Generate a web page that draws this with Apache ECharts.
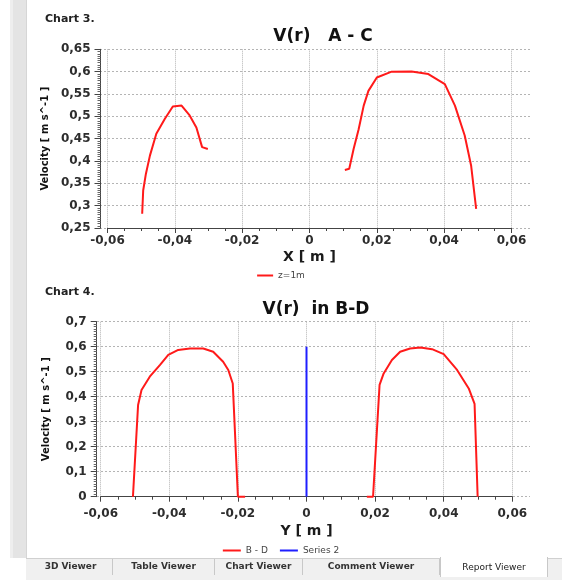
<!DOCTYPE html>
<html>
<head>
<meta charset="utf-8">
<script src="https://cdn.jsdelivr.net/npm/echarts@6/dist/echarts.min.js"></script>
<style>
  html, body { margin:0; padding:0; background:#ffffff; width:562px; height:580px; overflow:hidden; }
  #strip { position:absolute; left:10px; top:0; width:16px; height:558px; background:#e4e4e4; border-left:3px solid #eeeeee; box-sizing:border-box; }
  #panel { position:absolute; left:26px; top:0; width:536px; height:558px; border-left:1px solid #d6d6d6; box-sizing:border-box; }
  #chart { position:absolute; left:0; top:0; width:562px; height:558px; }
  #tabs { position:absolute; left:26px; top:558px; width:536px; height:22px; background:#f0f0f0; border-top:1px solid #d0d0d0; box-sizing:border-box; }
  .tab { position:absolute; top:0; height:16px; border-right:1px solid #c8c8c8; font:bold 9px "DejaVu Sans", sans-serif; color:#333; text-align:center; line-height:15px; box-sizing:border-box; }
  .tab.sel { background:#ffffff; top:-2px; height:20px; line-height:20px; border-left:1px solid #c8c8c8; font-weight:normal; color:#222; }
</style>
</head>
<body>
<div id="strip"></div>
<div id="panel"></div>
<div id="chart"></div>
<div id="tabs">
  <div class="tab" style="left:3px;width:84px;">3D Viewer</div>
  <div class="tab" style="left:87px;width:102px;">Table Viewer</div>
  <div class="tab" style="left:189px;width:88px;">Chart Viewer</div>
  <div class="tab" style="left:277px;width:137px;">Comment Viewer</div>
  <div class="tab sel" style="left:414px;width:108px;">Report Viewer</div>
</div>
<script>
// ---------- data ----------
// Chart 3 : V(r) A - C  (series "z=1m")
const acLeftX  = [-0.0497,-0.0494,-0.0486,-0.0474,-0.0455,-0.0430,-0.0406,-0.0380,-0.0356,-0.0336,-0.0319,-0.0302];
const acLeftV  = [ 0.282,  0.334,  0.371,  0.412,  0.461,  0.494,  0.522,  0.524,  0.502,  0.475,  0.431,  0.427];
const acRightX = [0.0105,0.0118,0.0131,0.0146,0.0161,0.0175,0.0200,0.0244,0.0303,0.0353,0.0402,0.0432,0.0461,0.0480,0.0495];
const acRightV = [0.380, 0.3825,0.427, 0.471, 0.524, 0.557, 0.587, 0.600, 0.6005,0.5946,0.572, 0.524, 0.457, 0.390, 0.293];
// Chart 4 : V(r) in B-D  (series "B - D" and "Series 2")
const bdLeftX  = [-0.0506,-0.0491,-0.0481,-0.0457,-0.0427,-0.0403,-0.0374,-0.0340,-0.0301,-0.0272,-0.0243,-0.0228,-0.0215,-0.0200,-0.0179];
const bdLeftV  = [ 0,      0.367,  0.427,  0.480,  0.527,  0.567,  0.587,  0.593,  0.593,  0.580,  0.540,  0.507,  0.453,  0,      0];
const bdRightX = [0.0176,0.0194,0.0213,0.0225,0.0249,0.0273,0.0302,0.0332,0.0366,0.0400,0.0439,0.0473,0.0490,0.0499];
const bdRightV = [0,     0,     0.447, 0.493, 0.547, 0.580, 0.593, 0.597, 0.590, 0.570, 0.507, 0.433, 0.371, 0];
const s2X = [0, 0];
const s2V = [0, 0.6];

const pairs = (xs, vs) => xs.map((x, i) => [x, vs[i]]);
const fmt = v => String(Math.round(v * 10000) / 10000).replace('.', ',');

const FONT = '"DejaVu Sans", sans-serif';
const tickLabel = { color:'#2d2d2d', fontWeight:'bold', fontSize:12, fontFamily:FONT, formatter: fmt };
const axisLine = { show:true, onZero:false, lineStyle:{ color:'#444', width:1 } };
const vSplit = { show:true, lineStyle:{ color:'#b4b4b4', type:[1,1], width:1 } };
const hSplit = { show:true, lineStyle:{ color:'#b4b4b4', type:[2,2], width:1 } };

function xMain(gridIndex, labelMargin, nameGap, name) {
  return {
    type:'value', gridIndex, min:-0.06, max:0.06, interval:0.02,
    name, nameLocation:'middle', nameGap,
    nameTextStyle:{ fontWeight:'bold', fontSize:14, color:'#1a1a1a', fontFamily:FONT },
    axisLine, axisTick:{ show:true, length:5, lineStyle:{ color:'#444' } },
    minorTick:{ show:true, splitNumber:4, length:3, lineStyle:{ color:'#444' } },
    axisLabel:Object.assign({ margin:labelMargin }, tickLabel),
    splitLine:vSplit
  };
}
function yMain(gridIndex, min, max, interval, offset, nameGap) {
  return {
    type:'value', gridIndex, min, max, interval, offset,
    name:'Velocity [ m s^-1 ]', nameLocation:'middle', nameGap,
    nameTextStyle:{ fontWeight:'bold', fontSize:10, color:'#111', fontFamily:FONT },
    axisLine, axisTick:{ show:true, length:6, lineStyle:{ color:'#444' } },
    minorTick:{ show:true, splitNumber:10, length:3, lineStyle:{ color:'#666' } },
    axisLabel:Object.assign({ margin:10 }, tickLabel),
    splitLine:{ show:false }
  };
}
function xBg(gridIndex) {
  return { type:'value', gridIndex, min:0, max:1, show:false, splitLine:{show:false} };
}
function yBg(gridIndex, min, max, interval) {
  return { type:'value', gridIndex, min, max, interval,
    axisLine:{show:false}, axisTick:{show:false}, axisLabel:{show:false}, splitLine:hSplit };
}

const red = '#ff1a1a', blue = '#1f1fff';
const lineSeries = (name, xi, yi, data, color) => ({
  name, type:'line', xAxisIndex:xi, yAxisIndex:yi, data, color,
  showSymbol:false, symbol:'none', smooth:false, clip:false,
  lineStyle:{ color, width:2 }, z:5, animation:false
});

const chart = echarts.init(document.getElementById('chart'), null, { renderer:'canvas' });
chart.setOption({
  animation:false,
  backgroundColor:'transparent',
  title:[
    { text:'Chart 3.', left:40, top:9, textStyle:{ fontSize:11, fontWeight:'bold', color:'#222', fontFamily:FONT } },
    { text:'V(r)   A - C', left:318, top:23, textAlign:'center', textStyle:{ fontSize:17, fontWeight:'bold', color:'#111', fontFamily:FONT } },
    { text:'Chart 4.', left:40, top:282, textStyle:{ fontSize:11, fontWeight:'bold', color:'#222', fontFamily:FONT } },
    { text:'V(r)  in B-D', left:311, top:296, textAlign:'center', textStyle:{ fontSize:17, fontWeight:'bold', color:'#111', fontFamily:FONT } }
  ],
  legend:[
    { data:['z=1m'], top:266, left:'center', icon:'rect', itemWidth:16, itemHeight:2, itemGap:10,
      textStyle:{ fontSize:9, color:'#444', fontFamily:FONT } },
    { data:['B - D','Series 2'], top:541, left:'center', icon:'rect', itemWidth:18, itemHeight:2, itemGap:12,
      textStyle:{ fontSize:9, color:'#444', fontFamily:FONT } }
  ],
  grid:[
    { left:107.5, top:49.3, width:404, height:178.7 },
    { left:100,   top:49.3, width:430, height:178.7 },
    { left:100.7, top:321.7, width:411.6, height:175 },
    { left:97,    top:321.7, width:433, height:175 }
  ],
  xAxis:[
    xMain(0, 7, 22, 'X [ m ]'),
    xBg(1),
    xMain(2, 11, 28, 'Y [ m ]'),
    xBg(3)
  ],
  yAxis:[
    yMain(0, 0.25, 0.65, 0.05, 7, 46),
    yBg(1, 0.25, 0.65, 0.05),
    yMain(2, 0, 0.7, 0.1, 4, 45),
    yBg(3, 0, 0.7, 0.1)
  ],
  series:[
    lineSeries('z=1m', 0, 0, pairs(acLeftX, acLeftV), red),
    lineSeries('z=1m', 0, 0, pairs(acRightX, acRightV), red),
    lineSeries('B - D', 2, 2, pairs(bdLeftX, bdLeftV), red),
    lineSeries('B - D', 2, 2, pairs(bdRightX, bdRightV), red),
    lineSeries('Series 2', 2, 2, pairs(s2X, s2V), blue)
  ]
});
</script>
</body>
</html>
